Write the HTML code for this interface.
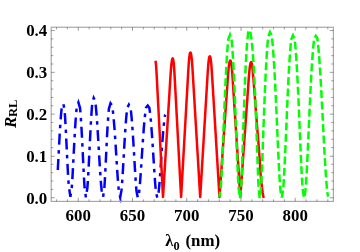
<!DOCTYPE html>
<html><head><meta charset="utf-8"><style>
html,body{margin:0;padding:0;background:#fff;}
body{width:360px;height:252px;overflow:hidden;}
svg{display:block;}
text{font-family:"Liberation Serif",serif;font-weight:bold;fill:#000;}
</style></head><body>
<svg width="360" height="252" viewBox="0 0 360 252">
<rect width="360" height="252" fill="#fff"/>
<g fill="none" stroke-width="2.5" stroke-linecap="butt">
<path d="M57.78 170.02 L57.87 168.35 L58.16 162.95 L58.44 157.46 L58.73 151.95 L59.01 146.51 L59.30 141.21 L59.59 136.10 L59.87 131.23 L60.16 126.65 L60.44 122.40 L60.73 118.49 L61.01 114.95 L61.30 111.80 L61.70 108.06 L63.30 103.76 L64.57 109.84 L64.72 111.78 L64.94 114.92 L65.16 118.45 L65.39 122.35 L65.62 126.60 L65.86 131.16 L66.10 136.02 L66.35 141.12 L66.61 146.41 L66.87 151.83 L67.14 157.33 L67.41 162.81 L67.69 168.19 L67.98 173.39 L68.27 178.30 L68.57 182.81 L68.83 186.36 L70.40 196.78 L71.70 188.36 L72.11 182.63 L72.40 178.05 L72.69 173.08 L72.97 167.82 L73.26 162.36 L73.54 156.81 L73.83 151.24 L74.11 145.75 L74.40 140.39 L74.69 135.22 L74.97 130.30 L75.26 125.67 L75.54 121.37 L75.83 117.42 L76.11 113.84 L76.40 110.66 L76.80 106.89 L78.40 102.51 L80.00 107.85 L80.28 110.72 L80.54 113.92 L80.81 117.52 L81.08 121.49 L81.35 125.81 L81.61 130.47 L81.88 135.41 L82.15 140.61 L82.42 146.00 L82.69 151.52 L82.95 157.12 L83.22 162.70 L83.49 168.19 L83.76 173.48 L84.03 178.48 L84.29 183.08 L84.60 187.74 L85.90 197.30 L87.35 188.01 L87.76 182.41 L88.06 177.59 L88.36 172.35 L88.66 166.81 L88.96 161.07 L89.25 155.22 L89.54 149.36 L89.82 143.57 L90.10 137.92 L90.38 132.48 L90.65 127.30 L90.92 122.43 L91.18 117.90 L91.45 113.74 L91.71 109.97 L91.96 106.62 L92.28 103.01 L93.70 97.91 L95.15 100.67 L95.53 103.67 L95.84 106.58 L96.15 109.92 L96.47 113.68 L96.79 117.82 L97.11 122.34 L97.44 127.20 L97.77 132.36 L98.10 137.78 L98.44 143.41 L98.78 149.18 L99.12 155.02 L99.47 160.85 L99.82 166.57 L100.18 172.10 L100.54 177.31 L100.90 182.12 L101.26 186.40 L101.67 190.49 L103.10 196.96 L104.40 187.27 L104.69 182.91 L104.95 178.36 L105.21 173.43 L105.48 168.20 L105.74 162.78 L106.01 157.26 L106.27 151.73 L106.54 146.27 L106.80 140.95 L107.06 135.81 L107.33 130.93 L107.59 126.33 L107.86 122.06 L108.12 118.13 L108.39 114.58 L108.65 111.42 L108.90 108.79 L110.50 103.33 L112.10 105.53 L112.58 108.68 L112.92 111.45 L113.27 114.62 L113.62 118.18 L113.96 122.12 L114.31 126.40 L114.66 131.02 L115.00 135.91 L115.35 141.06 L115.70 146.40 L116.04 151.88 L116.39 157.42 L116.74 162.96 L117.08 168.39 L117.43 173.64 L117.78 178.59 L118.12 183.15 L118.47 187.21 L118.90 191.45 L120.20 197.24 L121.50 190.20 L121.75 187.35 L122.06 183.34 L122.38 178.84 L122.69 173.95 L123.00 168.78 L123.31 163.42 L123.62 157.96 L123.93 152.49 L124.24 147.09 L124.55 141.82 L124.86 136.74 L125.17 131.91 L125.48 127.36 L125.79 123.13 L126.10 119.25 L126.41 115.73 L126.73 112.60 L127.04 109.87 L127.30 107.87 L128.90 104.63 L130.50 107.65 L130.81 109.91 L131.12 112.66 L131.44 115.81 L131.76 119.34 L132.08 123.25 L132.40 127.50 L132.71 132.07 L133.03 136.94 L133.35 142.04 L133.67 147.34 L133.99 152.77 L134.30 158.27 L134.62 163.76 L134.94 169.16 L135.26 174.36 L135.58 179.27 L135.89 183.79 L136.21 187.83 L136.50 191.00 L137.80 197.78 L139.10 192.31 L139.57 187.93 L139.92 183.93 L140.28 179.46 L140.63 174.59 L140.98 169.44 L141.34 164.10 L141.69 158.67 L142.04 153.23 L142.40 147.85 L142.75 142.60 L143.10 137.55 L143.46 132.73 L143.81 128.21 L144.16 124.00 L144.52 120.13 L144.87 116.63 L145.22 113.51 L145.58 110.80 L145.93 108.48 L146.10 107.53 L147.70 105.59 L149.30 107.81 L149.76 110.80 L150.10 113.53 L150.44 116.65 L150.79 120.15 L151.13 124.02 L151.47 128.23 L151.81 132.77 L152.16 137.58 L152.50 142.64 L152.84 147.89 L153.19 153.28 L153.53 158.73 L153.87 164.17 L154.21 169.51 L154.56 174.67 L154.90 179.54 L155.24 184.02 L155.59 188.02 L156.00 192.07 L157.30 197.88 L158.60 192.31 L158.98 188.80 L159.31 185.11 L159.65 180.98 L159.99 176.50 L160.32 171.75 L160.66 166.83 L160.99 161.82 L161.33 156.79 L161.66 151.83 L162.00 147.00 L162.34 142.33 L162.67 137.90 L163.01 133.72 L163.34 129.84 L163.68 126.27 L164.01 123.05 L164.35 120.17 L164.69 117.67 L165.10 115.09 L165.35 114.77" stroke="#0000ff" stroke-dasharray="11 5.45 3.5 5.45" stroke-linejoin="miter" stroke-miterlimit="5"/>
<path d="M155.50 60.75 L155.77 62.67 L156.06 65.67 L156.35 69.62 L156.64 74.53 L156.93 80.09 L157.21 85.65 L157.50 91.22 L157.79 96.79 L158.08 102.36 L158.37 107.92 L158.66 113.49 L158.95 119.06 L159.24 124.63 L159.53 130.19 L159.82 135.76 L160.11 141.33 L160.40 146.89 L160.69 152.46 L160.97 158.03 L161.26 163.60 L161.55 169.16 L161.84 174.73 L162.13 180.30 L162.42 185.87 L162.71 191.43 L163.00 197.00 L163.35 191.41 L163.69 185.82 L164.04 180.23 L164.39 174.63 L164.73 169.04 L165.08 163.45 L165.43 157.86 L165.77 152.27 L166.12 146.68 L166.46 141.09 L166.81 135.49 L167.16 129.90 L167.50 124.31 L167.85 118.72 L168.20 113.13 L168.54 107.54 L168.89 101.94 L169.24 96.35 L169.58 90.76 L169.93 85.17 L170.27 79.58 L170.62 74.00 L170.97 69.06 L171.31 65.10 L171.66 62.09 L172.01 60.00 L172.35 58.81 L172.70 58.45 L173.00 58.81 L173.30 60.00 L173.60 62.09 L173.90 65.10 L174.20 69.06 L174.50 74.00 L174.80 79.58 L175.10 85.17 L175.40 90.76 L175.70 96.35 L176.00 101.94 L176.30 107.54 L176.60 113.13 L176.90 118.72 L177.20 124.31 L177.50 129.90 L177.80 135.49 L178.10 141.09 L178.40 146.68 L178.70 152.27 L179.00 157.86 L179.30 163.45 L179.60 169.04 L179.90 174.63 L180.20 180.23 L180.50 185.82 L180.80 191.41 L181.10 197.00 L181.43 191.17 L181.76 185.34 L182.10 179.51 L182.43 173.68 L182.76 167.85 L183.09 162.02 L183.43 156.19 L183.76 150.36 L184.09 144.53 L184.42 138.70 L184.75 132.87 L185.09 127.04 L185.42 121.22 L185.75 115.39 L186.08 109.56 L186.41 103.73 L186.75 97.90 L187.08 92.07 L187.41 86.24 L187.74 80.41 L188.07 74.58 L188.41 68.76 L188.74 63.61 L189.07 59.48 L189.40 56.34 L189.74 54.17 L190.07 52.93 L190.40 52.55 L190.75 52.93 L191.10 54.17 L191.45 56.34 L191.80 59.48 L192.15 63.61 L192.50 68.76 L192.85 74.58 L193.20 80.41 L193.55 86.24 L193.90 92.07 L194.25 97.90 L194.60 103.73 L194.95 109.56 L195.30 115.39 L195.65 121.22 L196.00 127.04 L196.35 132.87 L196.70 138.70 L197.05 144.53 L197.40 150.36 L197.75 156.19 L198.10 162.02 L198.45 167.85 L198.80 173.68 L199.15 179.51 L199.50 185.34 L199.85 191.17 L200.20 197.00 L200.54 191.32 L200.89 185.64 L201.23 179.96 L201.57 174.28 L201.91 168.60 L202.26 162.92 L202.60 157.24 L202.94 151.56 L203.29 145.88 L203.63 140.20 L203.97 134.52 L204.31 128.84 L204.66 123.16 L205.00 117.48 L205.34 111.80 L205.69 106.12 L206.03 100.44 L206.37 94.76 L206.71 89.07 L207.06 83.39 L207.40 77.71 L207.74 72.05 L208.09 67.03 L208.43 63.00 L208.77 59.94 L209.11 57.83 L209.46 56.62 L209.80 56.25 L210.15 56.62 L210.49 57.83 L210.84 59.94 L211.19 63.00 L211.53 67.03 L211.88 72.05 L212.23 77.71 L212.57 83.39 L212.92 89.07 L213.26 94.76 L213.61 100.44 L213.96 106.12 L214.30 111.80 L214.65 117.48 L215.00 123.16 L215.34 128.84 L215.69 134.52 L216.04 140.20 L216.38 145.88 L216.73 151.56 L217.07 157.24 L217.42 162.92 L217.77 168.60 L218.11 174.28 L218.46 179.96 L218.81 185.64 L219.15 191.32 L219.50 197.00 L219.89 191.49 L220.27 185.98 L220.66 180.47 L221.04 174.96 L221.43 169.45 L221.81 163.94 L222.20 158.42 L222.59 152.91 L222.97 147.40 L223.36 141.89 L223.74 136.38 L224.13 130.87 L224.51 125.36 L224.90 119.85 L225.29 114.34 L225.67 108.83 L226.06 103.32 L226.44 97.81 L226.83 92.30 L227.21 86.78 L227.60 81.27 L227.99 75.78 L228.37 70.91 L228.76 67.00 L229.14 64.03 L229.53 61.98 L229.91 60.81 L230.30 60.45 L230.66 60.81 L231.01 61.98 L231.37 64.03 L231.73 67.00 L232.09 70.91 L232.44 75.78 L232.80 81.27 L233.16 86.78 L233.51 92.30 L233.87 97.81 L234.23 103.32 L234.59 108.83 L234.94 114.34 L235.30 119.85 L235.66 125.36 L236.01 130.87 L236.37 136.38 L236.73 141.89 L237.09 147.40 L237.44 152.91 L237.80 158.42 L238.16 163.94 L238.51 169.45 L238.87 174.96 L239.23 180.47 L239.59 185.98 L239.94 191.49 L240.30 197.00 L240.69 191.55 L241.08 186.11 L241.47 180.66 L241.86 175.22 L242.25 169.77 L242.64 164.32 L243.03 158.88 L243.41 153.43 L243.80 147.98 L244.19 142.54 L244.58 137.09 L244.97 131.65 L245.36 126.20 L245.75 120.75 L246.14 115.31 L246.53 109.86 L246.92 104.41 L247.31 98.97 L247.70 93.52 L248.09 88.08 L248.47 82.63 L248.86 77.20 L249.25 72.39 L249.64 68.52 L250.03 65.59 L250.42 63.56 L250.81 62.40 L251.20 62.05 L251.70 63.20 L252.30 67.00 L253.00 74.00 L254.50 92.00 L255.90 111.00 L257.20 128.00 L258.70 146.00 L259.70 160.00 L260.60 174.00 L261.80 186.00 L262.70 193.00 L263.65 198.00" stroke="#ff0000" stroke-linejoin="round"/>
<path d="M219.40 197.00 L220.70 188.68 L220.91 185.81 L221.29 179.87 L221.67 172.92 L222.05 165.12 L222.43 156.66 L222.81 147.70 L223.19 138.41 L223.56 128.95 L223.94 119.48 L224.32 110.12 L224.70 100.99 L225.08 92.20 L225.46 83.82 L225.84 75.94 L226.21 68.62 L226.59 61.89 L226.97 55.80 L227.35 50.38 L227.73 45.65 L228.11 41.62 L228.40 39.00 L230.00 34.81 L231.60 39.86 L231.79 41.69 L232.14 45.74 L232.50 50.50 L232.86 55.96 L233.21 62.09 L233.57 68.86 L233.93 76.24 L234.29 84.17 L234.64 92.60 L235.00 101.45 L235.36 110.64 L235.71 120.07 L236.07 129.61 L236.43 139.13 L236.79 148.48 L237.14 157.50 L237.50 166.02 L237.86 173.86 L238.21 180.86 L238.70 188.72 L240.00 198.11 L241.17 186.95 L241.48 180.66 L241.78 173.58 L242.09 165.65 L242.39 157.03 L242.70 147.91 L243.02 138.45 L243.33 128.82 L243.65 119.17 L243.97 109.64 L244.30 100.34 L244.63 91.39 L244.96 82.86 L245.30 74.83 L245.64 67.37 L245.99 60.52 L246.34 54.32 L246.69 48.80 L247.04 43.98 L247.34 40.55 L248.32 30.80 L250.21 30.80 L251.34 38.23 L251.55 39.89 L252.01 43.99 L252.46 48.81 L252.90 54.34 L253.34 60.54 L253.76 67.40 L254.17 74.86 L254.58 82.89 L254.97 91.42 L255.35 100.38 L255.72 109.69 L256.08 119.22 L256.42 128.88 L256.76 138.51 L257.09 147.98 L257.40 157.11 L257.71 165.73 L258.01 173.67 L258.30 180.76 L258.59 186.81 L258.74 189.57 L259.70 198.21 L260.88 189.20 L261.04 186.75 L261.38 180.66 L261.72 173.54 L262.06 165.56 L262.41 156.89 L262.76 147.71 L263.11 138.19 L263.46 128.50 L263.82 118.80 L264.18 109.21 L264.55 99.85 L264.92 90.85 L265.29 82.27 L265.67 74.19 L266.05 66.69 L266.44 59.80 L266.82 53.56 L267.21 48.01 L267.61 43.16 L268.00 39.03 L268.26 36.75 L270.00 32.00 L271.60 35.03 L272.11 39.00 L272.53 43.11 L272.95 47.94 L273.37 53.47 L273.79 59.69 L274.21 66.55 L274.64 74.03 L275.06 82.08 L275.48 90.62 L275.90 99.60 L276.32 108.92 L276.74 118.47 L277.16 128.14 L277.59 137.79 L278.01 147.28 L278.43 156.42 L278.85 165.06 L279.27 173.02 L279.69 180.11 L280.11 186.18 L280.50 190.71 L281.80 197.60 L283.10 190.12 L283.40 186.41 L283.80 180.46 L284.20 173.51 L284.60 165.71 L285.00 157.25 L285.40 148.28 L285.80 138.99 L286.20 129.53 L286.60 120.05 L287.00 110.69 L287.40 101.56 L287.80 92.76 L288.20 84.39 L288.60 76.50 L289.00 69.17 L289.40 62.45 L289.80 56.35 L290.20 50.93 L290.60 46.20 L291.00 42.17 L291.40 38.86 L293.00 35.36 L294.60 38.98 L294.98 42.19 L295.38 46.23 L295.77 50.97 L296.17 56.41 L296.57 62.52 L296.96 69.26 L297.36 76.61 L297.76 84.51 L298.15 92.90 L298.55 101.72 L298.95 110.88 L299.34 120.26 L299.74 129.76 L300.14 139.25 L300.53 148.56 L300.93 157.54 L301.33 166.03 L301.72 173.84 L302.12 180.81 L302.51 186.78 L302.80 190.37 L304.10 198.00 L305.40 191.13 L305.77 186.81 L306.19 180.87 L306.61 173.93 L307.03 166.14 L307.44 157.68 L307.86 148.72 L308.28 139.44 L308.70 129.99 L309.11 120.52 L309.53 111.17 L309.95 102.04 L310.37 93.26 L310.79 84.89 L311.20 77.01 L311.62 69.69 L312.04 62.97 L312.46 56.88 L312.88 51.47 L313.29 46.74 L313.71 42.71 L314.20 38.92 L315.80 35.91 L317.21 37.79 L317.47 39.46 L317.89 42.79 L318.32 46.84 L318.75 51.61 L319.18 57.07 L319.62 63.20 L320.06 69.98 L320.51 77.36 L320.97 85.30 L321.43 93.73 L321.90 102.59 L322.37 111.78 L322.86 121.21 L323.34 130.76 L323.84 140.28 L324.33 149.64 L324.84 158.66 L325.35 167.19 L325.86 175.04 L326.38 182.04 L326.90 188.03 L327.55 193.84 L328.30 196.67" stroke="#00ff00" stroke-dasharray="7.95 3.4" stroke-dashoffset="2.51" stroke-linejoin="miter" stroke-miterlimit="5"/>
</g>
<rect x="51.2" y="27.25" width="282.20" height="174.15" fill="none" stroke="#a8a8a8" stroke-width="1.2"/>
<path d="M56.55 201.40V199.30M56.55 27.25V29.35M67.40 201.40V199.30M67.40 27.25V29.35M78.25 201.40V197.80M78.25 27.25V30.85M89.10 201.40V199.30M89.10 27.25V29.35M99.95 201.40V199.30M99.95 27.25V29.35M110.80 201.40V199.30M110.80 27.25V29.35M121.65 201.40V199.30M121.65 27.25V29.35M132.50 201.40V197.80M132.50 27.25V30.85M143.35 201.40V199.30M143.35 27.25V29.35M154.20 201.40V199.30M154.20 27.25V29.35M165.05 201.40V199.30M165.05 27.25V29.35M175.90 201.40V199.30M175.90 27.25V29.35M186.75 201.40V197.80M186.75 27.25V30.85M197.60 201.40V199.30M197.60 27.25V29.35M208.45 201.40V199.30M208.45 27.25V29.35M219.30 201.40V199.30M219.30 27.25V29.35M230.15 201.40V199.30M230.15 27.25V29.35M241.00 201.40V197.80M241.00 27.25V30.85M251.85 201.40V199.30M251.85 27.25V29.35M262.70 201.40V199.30M262.70 27.25V29.35M273.55 201.40V199.30M273.55 27.25V29.35M284.40 201.40V199.30M284.40 27.25V29.35M295.25 201.40V197.80M295.25 27.25V30.85M306.10 201.40V199.30M306.10 27.25V29.35M316.95 201.40V199.30M316.95 27.25V29.35M327.80 201.40V199.30M327.80 27.25V29.35M51.20 197.75H54.80M333.40 197.75H329.80M51.20 189.39H53.30M333.40 189.39H331.30M51.20 181.03H53.30M333.40 181.03H331.30M51.20 172.67H53.30M333.40 172.67H331.30M51.20 164.31H53.30M333.40 164.31H331.30M51.20 156.25H54.80M333.40 156.25H329.80M51.20 147.59H53.30M333.40 147.59H331.30M51.20 139.23H53.30M333.40 139.23H331.30M51.20 130.87H53.30M333.40 130.87H331.30M51.20 122.51H53.30M333.40 122.51H331.30M51.20 114.15H54.80M333.40 114.15H329.80M51.20 105.79H53.30M333.40 105.79H331.30M51.20 97.43H53.30M333.40 97.43H331.30M51.20 89.07H53.30M333.40 89.07H331.30M51.20 80.71H53.30M333.40 80.71H331.30M51.20 72.35H54.80M333.40 72.35H329.80M51.20 63.99H53.30M333.40 63.99H331.30M51.20 55.63H53.30M333.40 55.63H331.30M51.20 47.27H53.30M333.40 47.27H331.30M51.20 38.91H53.30M333.40 38.91H331.30M51.20 30.55H54.80M333.40 30.55H329.80" fill="none" stroke="#3c3c3c" stroke-width="0.5"/>
<filter id="ga" filterUnits="userSpaceOnUse" x="0" y="0" width="360" height="252"><feOffset dx="0" dy="0"/></filter>
<g filter="url(#ga)">
<g font-size="16.9px"><text x="78.25" y="220.6" text-anchor="middle">600</text><text x="132.50" y="220.6" text-anchor="middle">650</text><text x="186.75" y="220.6" text-anchor="middle">700</text><text x="241.00" y="220.6" text-anchor="middle">750</text><text x="295.25" y="220.6" text-anchor="middle">800</text><text x="47.3" y="203.65" text-anchor="end">0.0</text><text x="47.3" y="161.85" text-anchor="end">0.1</text><text x="47.3" y="120.05" text-anchor="end">0.2</text><text x="47.3" y="78.25" text-anchor="end">0.3</text><text x="47.3" y="36.45" text-anchor="end">0.4</text></g>
<g transform="translate(16.0,127.9) rotate(-90)"><text x="0" y="0" font-size="17px" font-style="italic">R</text><text x="10.9" y="0.7" font-size="12.5px">RL</text></g>
<text x="165.3" y="245.9" font-size="16.5px">λ</text><text x="173.6" y="249.6" font-size="12.3px">0</text><text x="185.4" y="245.9" font-size="16.9px">(nm)</text>
</g>
</svg>
</body></html>
